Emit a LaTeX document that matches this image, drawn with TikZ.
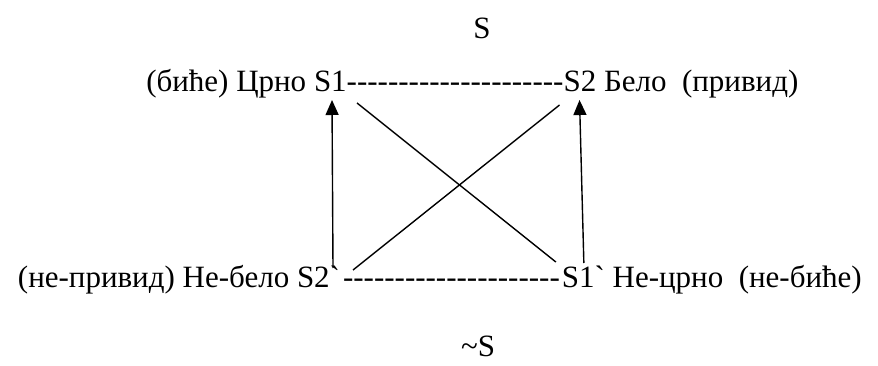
\documentclass[tikz,border=0pt]{standalone}
\usepackage{fontspec}
\newfontfamily\rowfont{Liberation Serif}
\usetikzlibrary{arrows.meta}
\begin{document}
\begin{tikzpicture}[x=1pt,y=-1pt,
  txt/.style={inner sep=0pt, outer sep=0pt, font=\rowfont\fontsize{31}{36}\selectfont},
  conn/.style={line width=1.4pt, line cap=butt},
  arr/.style={conn, -{Triangle[length=15pt,width=13pt]}}]
\useasboundingbox (0,0) rectangle (878,366);
% title
\node[txt, anchor=base] (top) at (482,39) {S};
% top row
\node[txt, anchor=base west] (s1) at (314,92) {S1};
\node[txt, anchor=base east] (tl) at (s1.base west) {(биће) Црно~\null};
\node[txt, anchor=base west] (d1) at (s1.base east) {---------------------};
\node[txt, anchor=base west] (s2) at (d1.base east) {S2};
\node[txt, anchor=base west] (tr) at (s2.base east) {\null~Бело~~(привид)};
% bottom row
\node[txt, anchor=base west] (s2b) at (297,287) {S2`};
\node[txt, anchor=base east] (bl) at (s2b.base west) {(не-привид) Не-бело~\null};
\node[txt, anchor=base west] (d2) at (s2b.base east) {\kern3pt---------------------\kern2pt};
\node[txt, anchor=base west] (s1b) at (d2.base east) {S1`};
\node[txt, anchor=base west] (br) at (s1b.base east) {\null~Не-црно~~(не-биће)};
% bottom title
\node[txt, anchor=base] (bot) at (478,356) {\textasciitilde S};
% connectors
\draw[arr] ([shift={(36,-19)}]s2b.base west) -- ([shift={(18,8)}]s1.base west);
\draw[arr] ([shift={(22,-24)}]s1b.base west) -- ([shift={(16,8)}]s2.base west);
\draw[conn] ([shift={(43,11)}]s1.base west) -- ([shift={(-6,-25)}]s1b.base west);
\draw[conn] ([shift={(-4,13)}]s2.base west) -- ([shift={(56,-17)}]s2b.base west);
\end{tikzpicture}
\end{document}
